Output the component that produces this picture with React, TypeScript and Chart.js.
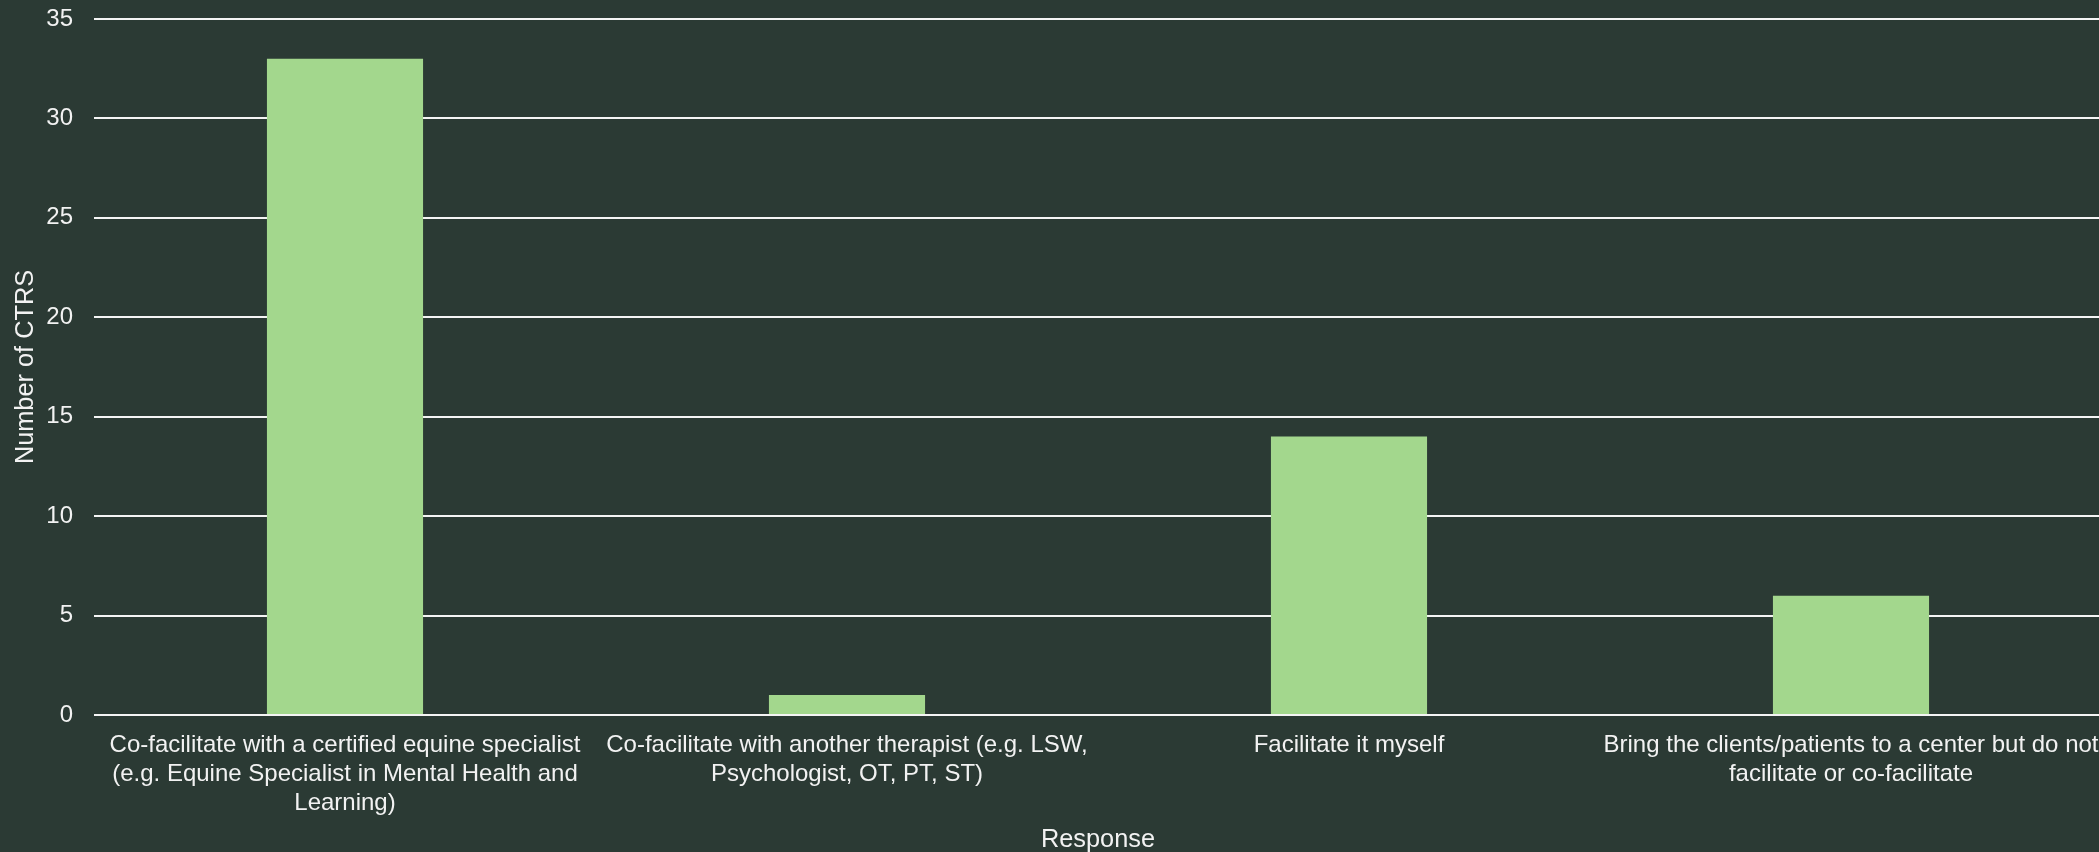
import React, { useEffect, useRef } from "react";
import { Chart, registerables } from "chart.js";

Chart.register(...registerables);

const categories: string[][] = [
  ["Co-facilitate with a certified equine specialist", "(e.g. Equine Specialist in Mental Health and", "Learning)"],
  ["Co-facilitate with another therapist (e.g. LSW,", "Psychologist, OT, PT, ST)"],
  ["Facilitate it myself"],
  ["Bring the clients/patients to a center but do not", "facilitate or co-facilitate"],
];
const counts: number[] = [33, 1, 14, 6];
const yMin = 0;
const yMax = 35;
const yStep = 5;
const xTitle = "Response";
const yTitle = "Number of CTRS";

const BG = "#2b3a34";
const BAR = "#a3d78d";
const TEXT = "#f2f2f2";
const FONT = "'Liberation Sans', Arial, sans-serif";

export default function App() {
  const ref = useRef<HTMLCanvasElement | null>(null);
  useEffect(() => {
    document.body.style.margin = "0";
    const canvas = ref.current!;
    const chart = new Chart(canvas, {
      type: "bar",
      data: {
        labels: categories,
        datasets: [
          {
            data: counts,
            backgroundColor: BAR,
            borderWidth: 0,
            categoryPercentage: 1,
            barPercentage: 0.311,
          },
        ],
      },
      options: {
        animation: false,
        responsive: false,
        devicePixelRatio: 1,
        layout: { padding: { top: 19, left: 0, right: 0, bottom: 0 } },
        plugins: { legend: { display: false }, tooltip: { enabled: false } },
        scales: {
          x: {
            grid: { display: false, drawTicks: false },
            border: { display: false },
            ticks: {
              color: TEXT,
              font: { family: FONT, size: 24 },
              padding: 16,
              maxRotation: 0,
              minRotation: 0,
              autoSkip: false,
            },
            title: {
              display: true,
              text: xTitle,
              color: TEXT,
              font: { family: FONT, size: 25.33 },
              padding: { top: 4, bottom: -3 },
            },
            afterFit: (s: any) => {
              s.paddingLeft = 0;
              s.paddingRight = 0;
              s.height = 137;
            },
          },
          y: {
            min: yMin,
            max: yMax,
            grid: { color: "#f4f4f4", lineWidth: 2, drawTicks: false },
            border: { display: false },
            ticks: {
              stepSize: yStep,
              color: TEXT,
              font: { family: FONT, size: 24 },
              padding: 21,
            },
            title: {
              display: true,
              text: yTitle,
              color: TEXT,
              font: { family: FONT, size: 25.33 },
              padding: { top: 11, bottom: 5 },
            },
            afterFit: (s: any) => {
              s.paddingTop = 0;
              s.paddingBottom = 0;
              s.width = 94;
            },
          },
        },
      },
    });
    return () => chart.destroy();
  }, []);
  return (
    <div
      style={{
        position: "fixed",
        left: 0,
        top: 0,
        width: 2099,
        height: 852,
        overflow: "hidden",
        background: BG,
      }}
    >
      <canvas ref={ref} width={2102} height={852} style={{ display: "block" }} />
    </div>
  );
}
